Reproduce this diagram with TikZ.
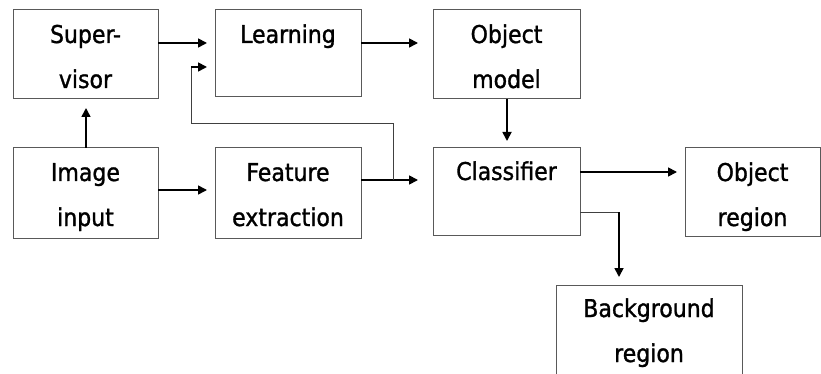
\documentclass[tikz,border=0pt]{standalone}
\usepackage{fontspec}
\setmainfont{DejaVu Sans Condensed}
\newfontfamily\lblfont{DejaVu Sans Condensed}[FakeBold=1.2]
\usetikzlibrary{arrows.meta,calc}
% two centred lines, the box baseline being that of the first line
\newcommand\twolines[2]{\vtop{\baselineskip=45pt\halign{\hfil##\hfil\cr#1\cr#2\cr}}}
\begin{document}
\begin{tikzpicture}[x=1pt,y=-1pt,
  box/.style={draw=black!65, line width=1pt, inner sep=0pt, outer sep=0pt, anchor=north west},
  lbl/.style={inner sep=0pt, anchor=base, font=\lblfont\fontsize{24.5}{29}\selectfont},
  arr/.style={line width=1.7pt, -{Triangle[length=9pt,width=9pt]}},
  thin/.style={line width=1pt, draw=black!75}]
\useasboundingbox (0,0) rectangle (821,374);

% blocks
\node[box, minimum width=145pt, minimum height=89pt] (sup)   at (13,10)   {};
\node[box, minimum width=146pt, minimum height=87pt] (learn) at (215,10)  {};
\node[box, minimum width=147pt, minimum height=89pt] (objm)  at (433,10)  {};
\node[box, minimum width=145pt, minimum height=90pt] (img)   at (13,148)  {};
\node[box, minimum width=146pt, minimum height=90pt] (feat)  at (215,148) {};
\node[box, minimum width=147pt, minimum height=87pt] (cls)   at (433,148) {};
\node[box, minimum width=135pt, minimum height=88pt] (objr)  at (685,148) {};
\node[box, minimum width=186pt, minimum height=100pt] (bg)   at (556,285) {};

% labels
\node[lbl] (supT)   at ($(sup.north)+(0,33)$)   {\twolines{Super-}{visor}};
\node[lbl] (learnT) at ($(learn.north)+(0,33)$) {Learning};
\node[lbl] (objmT)  at ($(objm.north)+(0,33)$)  {\twolines{Object}{model}};
\node[lbl] (imgT)   at ($(img.north)+(0,33)$)   {\twolines{Image}{input}};
\node[lbl] (featT)  at ($(feat.north)+(0,33)$)  {\twolines{Feature}{extraction}};
\node[lbl] (clsT)   at ($(cls.north)+(0,32)$)   {Classifier};
\node[lbl] (objrT)  at ($(objr.north)+(0,33)$)  {\twolines{Object}{region}};
\node[lbl] (bgT)    at ($(bg.north)+(0,32)$)    {\twolines{Background}{region}};

% junction points of the feedback line
\coordinate (fj) at ($(feat.north east)+(32,32)$);
\coordinate (lj) at ($(learn.north west)+(-24,57)$);

% connectors
\draw[arr] ($(sup.north east)+(0,33)$)   -- ($(learn.north west)+(-8,33)$);
\draw[arr] ($(learn.north east)+(0,33)$) -- ($(objm.north west)+(-15,33)$);
\draw[arr] ($(img.north east)+(0,42)$)   -- ($(feat.north west)+(-8,42)$);
\draw[arr] ($(feat.north east)+(0,32)$)  -- ($(cls.north west)+(-15,32)$);
\draw[arr] (img.north -| 86,0)           -- ($(sup.south -| 86,0)+(0,9)$);
\draw[arr] (objm.south -| 507,0)         -- ($(cls.north -| 507,0)+(0,-7)$);
\draw[arr] ($(cls.north east)+(0,24)$)   -- ($(objr.north west)+(-8,24)$);

% feedback from the feature path to the learning block
\draw[thin] (fj) |- ($(lj)+(0,57)$) -- (lj);
\draw[arr] (lj) -- ($(learn.north west)+(-8,57)$);

% classifier to background region
\coordinate (bj) at ($(bg.north west)+(63,-73)$);
\draw[thin] ($(cls.north east)+(0,64)$) -- (bj);
\draw[arr] (bj) -- ($(bg.north west)+(63,-8)$);
\end{tikzpicture}
\end{document}
